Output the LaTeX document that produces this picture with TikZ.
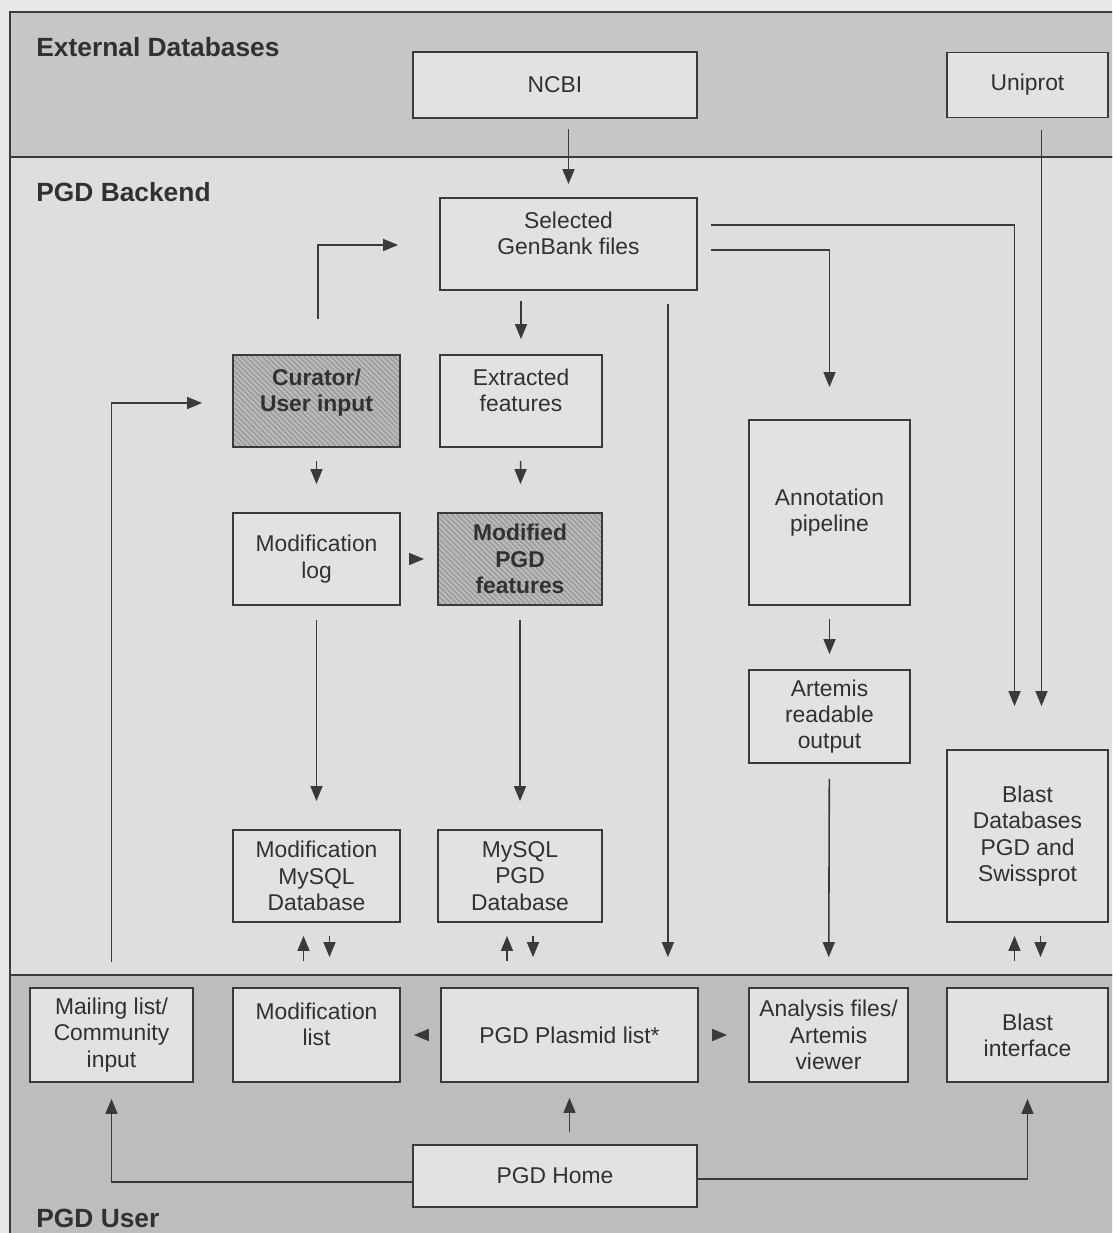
\documentclass[tikz,border=0pt]{standalone}
\usepackage{fontspec}
\setmainfont{Liberation Sans}
\usetikzlibrary{arrows.meta,calc,patterns}
\definecolor{Cmg}{HTML}{E8E8E8}
\definecolor{Cex}{HTML}{C6C6C6}
\definecolor{Cbk}{HTML}{DEDEDE}
\definecolor{Cus}{HTML}{BDBDBD}
\definecolor{Cbx}{HTML}{E2E2E2}
\definecolor{Cht}{HTML}{B8B8B8}
\definecolor{Cln}{HTML}{3A3A3A}

\tikzset{
	box/.style={draw=Cln, line width=1.05pt, fill=Cbx, inner sep=0pt, align=center,
		text=Cln!85!black, font=\fontsize{13pt}{15pt}\selectfont,
		minimum width=3.28cm, minimum height=1.84cm},
	hatched/.style={preaction={fill=Cht}, pattern=north west lines, pattern color=Cln!60,
		font=\fontsize{13pt}{15pt}\selectfont\bfseries},
	lifted/.style={text depth=12pt},
	arr/.style={draw=Cln, line width=0.9pt, -{Triangle[length=0.3cm,width=0.24cm]}},
	band/.style={draw=Cln, line width=0.9pt},
	head/.style={font=\fontsize{15pt}{18pt}\selectfont\bfseries, text=Cln!85!black,
		anchor=base west, inner sep=0pt},
}

\begin{document}
\begin{tikzpicture}[x=0.02cm, y=-0.02cm]
		
		\useasboundingbox (0,0) rectangle (1112,1233);
		\clip (0,0) rectangle (1112,1233);
		
		%% page background and the three bands
		\fill[Cmg] (0,0) rectangle (1112,1233);
		\draw[band, fill=Cex] (10,12)  rectangle (1125,157);
		\draw[band, fill=Cbk] (10,157) rectangle (1125,975);
		\draw[band, fill=Cus] (10,975) rectangle (1125,1250);
		
		\node[head] (lext)  at (36,57)   {External Databases};
		\node[head] (lback) at (36,202)  {PGD Backend};
		\node[head] (luser) at (36,1227) {PGD User};
		
		%% ── external databases ───────────────────────────────────────────────
		\node[box, minimum width=5.68cm, minimum height=1.32cm] (ncbi) at (555,85)    {NCBI};
		\node[box, minimum width=3.22cm, minimum height=1.30cm] (uni)  at (1027.5,85) {Uniprot};
		
		%% ── backend ──────────────────────────────────────────────────────────
		\node[box, lifted, minimum width=5.14cm]          (sel)    at (568.5,244) {Selected\\GenBank files};
		\node[box, hatched, lifted, minimum width=3.34cm] (cur)    at (316.5,401) {Curator/\\User input};
		\node[box, lifted, minimum width=3.24cm]          (ext)    at (521,401)   {Extracted\\features};
		\node[box, minimum width=3.34cm]                  (modlog) at (316.5,559) {Modification\\log};
		\node[box, hatched]                               (modf)   at (520,559)   {Modified\\PGD\\features};
		\node[box, minimum width=3.22cm, minimum height=3.70cm] (annot) at (829.5,512.5) {Annotation\\pipeline};
		\node[box, minimum width=3.22cm, minimum height=1.86cm] (art)   at (829.5,716.5) {Artemis\\readable\\output};
		\node[box, minimum width=3.34cm]                  (moddb)  at (316.5,876) {Modification\\MySQL\\Database};
		\node[box]                                        (pgddb)  at (520,876)   {MySQL\\PGD\\Database};
		\node[box, minimum width=3.22cm, minimum height=3.44cm] (bdb)   at (1027.5,836) {Blast\\Databases\\PGD and\\Swissprot};
		
		%% ── user side ────────────────────────────────────────────────────────
		\node[box, minimum width=3.26cm, minimum height=1.88cm]         (mail)    at (111.5,1035) {Mailing list/\\Community\\input};
		\node[box, lifted, minimum width=3.34cm, minimum height=1.88cm] (modlist) at (316.5,1035) {Modification\\list};
		\node[box, minimum width=5.14cm, minimum height=1.88cm]         (plist)   at (569.5,1035) {PGD Plasmid list*};
		\node[box, minimum width=3.18cm, minimum height=1.88cm]         (ana)     at (828.5,1035) {Analysis files/\\Artemis\\viewer};
		\node[box, minimum width=3.22cm, minimum height=1.88cm]         (bi)      at (1027.5,1035) {Blast\\interface};
		\node[box, minimum width=5.68cm, minimum height=1.24cm]         (home)    at (555,1176)   {PGD Home};
		
		%% ── connectors ───────────────────────────────────────────────────────
		\draw[arr, shorten <=0.2cm, shorten >=0.26cm] (sel.north |- ncbi.south) -- (sel.north);
		\draw[arr, shorten <=0.2cm, shorten >=0.3cm]  (ext.north |- sel.south) -- (ext.north);
		\draw[arr, shorten <=0.26cm, shorten >=0.56cm] (cur) -- (modlog);
		\draw[arr, shorten <=0.26cm, shorten >=0.56cm] (ext) -- (modf);
		\draw[arr, shorten <=0.16cm, shorten >=0.26cm] (modlog) -- (modf);
		\draw[arr, shorten <=0.28cm, shorten >=0.56cm] (modlog) -- (moddb);
		\draw[arr, shorten <=0.28cm, shorten >=0.56cm] (modf) -- (pgddb);
		
		%% GenBank files fan out to the plasmid list, pipeline and Blast
		\draw[arr, shorten <=0.26cm, shorten >=0.6cm]
		($(sel.south east)+(-30,0)$) -- ($(plist.north east)+(-31,0)$);
		\draw[arr] ($(sel.east)+(13,-19)$) -| ($(bdb.north)+(-13,-43)$);
		\draw[arr] ($(sel.east)+(13,6)$)   -| ($(annot.north)+(0,-32)$);
		\draw[arr] ($(uni.south)+(14,12)$) -- ($(bdb.north)+(14,-43)$);
		
		\draw[arr, shorten <=0.26cm, shorten >=0.3cm] (annot) -- (art);
		\draw[arr, shorten <=0.3cm, shorten >=0.6cm]  (art) -- (ana);
		
		%% curator input loop
		\draw[arr] ($(mail.north)+(0,-25)$) |- ($(cur.west)+(-30,2)$);
		\draw[arr] ($(cur.north)+(1.5,-35)$) |- ($(sel.west)+(-41,1)$);
		
		%% database <-> web pages, both ways
		\draw[arr, shorten <=0.52cm, shorten >=0.26cm] ($(modlist.north)+(-13,0)$) -- ($(moddb.south)+(-13,0)$);
		\draw[arr, shorten <=0.26cm, shorten >=0.6cm]  ($(moddb.south)+(13,0)$) -- ($(modlist.north)+(13,0)$);
		\draw[arr, shorten <=0.52cm, shorten >=0.26cm] ($(plist.north)+(-62.5,0)$) -- ($(pgddb.south)+(-13,0)$);
		\draw[arr, shorten <=0.26cm, shorten >=0.6cm]  ($(pgddb.south)+(13,0)$) -- ($(plist.north)+(-36.5,0)$);
		\draw[arr, shorten <=0.52cm, shorten >=0.26cm] ($(bi.north)+(-13,0)$) -- ($(bdb.south)+(-13,0)$);
		\draw[arr, shorten <=0.26cm, shorten >=0.6cm]  ($(bdb.south)+(13,0)$) -- ($(bi.north)+(13,0)$);
		
		\draw[arr, shorten <=0.24cm, shorten >=0.26cm] (plist) -- (modlist);
		\draw[arr, shorten <=0.3cm, shorten >=0.42cm]  (plist) -- (ana);
		
		%% PGD Home links
		\draw[arr, shorten >=0.32cm] ($(home.west)+(0,6)$) -| (mail.south);
		\draw[arr, shorten <=0.24cm, shorten >=0.3cm] (plist.south |- home.north) -- (plist.south);
		\draw[arr, shorten >=0.32cm] ($(home.east)+(0,3)$) -| (bi.south);
		
	\end{tikzpicture}
\end{document}
